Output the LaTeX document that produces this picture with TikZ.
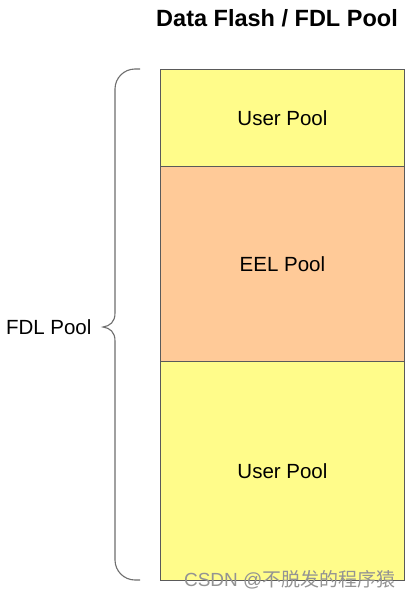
\documentclass[tikz,border=0pt]{standalone}
\usepackage{fontspec}
\setmainfont{Liberation Sans}
\newfontfamily\cjk{Noto Sans CJK SC}
\definecolor{poolyellow}{RGB}{255,252,138}
\definecolor{poolpeach}{RGB}{255,202,152}
\definecolor{edgegray}{RGB}{90,90,90}
\definecolor{bracegray}{RGB}{110,110,110}
\begin{document}
\begin{tikzpicture}[x=1pt,y=-1pt,
  poolbox/.style={draw=edgegray,line width=0.9pt},
  pooltext/.style={font=\fontsize{20.5}{24}\selectfont,text=black},
  bracestyle/.style={draw=bracegray,line width=1.1pt}]
\useasboundingbox (0,0) rectangle (414,599);
\fill[white] (0,0) rectangle (414,599);
% boxes
\node[poolbox,fill=poolyellow,minimum width=244pt,minimum height=97pt,anchor=north west,inner sep=0pt] (up) at (160,69) {};
\node[poolbox,fill=poolpeach,minimum width=244pt,minimum height=195pt,anchor=north west,inner sep=0pt] (eel) at (160,166) {};
\node[poolbox,fill=poolyellow,minimum width=244pt,minimum height=219pt,anchor=north west,inner sep=0pt] (low) at (160,361) {};
\node[pooltext] (upt) at (up.center) {User Pool};
\node[pooltext] (eelt) at (eel.center) {EEL Pool};
\node[pooltext] (lowt) at (low.center) {User Pool};
% title
\node[font=\fontsize{23.5}{28}\selectfont\bfseries] (title) at (277,18) {Data Flash / FDL Pool};
% brace
\coordinate (btop) at (140,69);
\coordinate (bbot) at (140,580);
\coordinate (btip) at (103,327);
\draw[bracestyle] (btop) -- (135,69) .. controls (124,69) and (115,78) .. (115,89) -- (115,313)
  .. controls (115,322) and (110,326) .. (btip)
  .. controls (110,328) and (115,332) .. (115,341)
  -- (115,560) .. controls (115,571) and (124,580) .. (135,580) -- (bbot);
\node[pooltext,anchor=east] (fdl) at (95,327) {FDL Pool};
% watermark
\node[text=gray!85,font=\fontsize{19}{22}\selectfont,anchor=east] (wm) at (399,580) {CSDN @{\cjk 不脱发的程序猿}};
\end{tikzpicture}
\end{document}
